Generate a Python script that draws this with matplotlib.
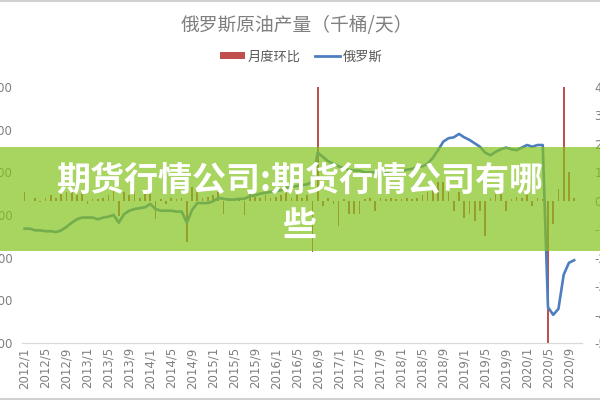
import numpy as np
import matplotlib
matplotlib.use("Agg")
import matplotlib.pyplot as plt
from matplotlib.patches import Rectangle, Patch
from matplotlib.lines import Line2D

plt.rcParams['font.family'] = ['Noto Sans CJK SC', 'DejaVu Sans']

# months on the category axis: 2012/1 .. 2020/11
months = [f"{y}/{m}" for y in range(2012, 2021) for m in range(1, 13)][:107]

# Russian crude output, thousand barrels/day (left axis), 2012/1 .. 2020/10
russia = [
    10340, 10340, 10320, 10320, 10310, 10310, 10300, 10320, 10360, 10410,
    10450, 10470, 10470, 10470, 10450, 10470, 10480, 10500, 10410, 10510,
    10550, 10570, 10580, 10590, 10630, 10570, 10550, 10550, 10550, 10540,
    10540, 10410, 10560, 10640, 10640, 10640, 10660, 10700, 10690, 10680,
    10680, 10690, 10690, 10720, 10730, 10750, 10760, 10770, 10780, 10790,
    10820, 10830, 10840, 10850, 10860, 10890, 11230, 11180, 11130, 11100,
    11070, 11050, 11030, 11020, 11020, 11000, 11000, 11000, 11020, 11000,
    11020, 11020, 11020, 11030, 11040, 11060, 11070, 11100, 11170, 11260,
    11360, 11400, 11410, 11450, 11410, 11380, 11340, 11300, 11230, 11200,
    11240, 11270, 11290, 11270, 11260, 11290, 11320, 11300, 11320, 11320,
    9420, 9330, 9400, 9800, 9940, 9970,
]

# month-on-month change (right axis)
mom = [
    0.3, 0.0, 0.1, -0.05, 0.1, 0.2, 0.1, 0.25, 0.3, 0.35,
    0.2, 0.3, -0.1, 0.05, 0.05, 0.1, 0.2, 0.35, -0.55, 0.3,
    0.2, 0.35, 0.1, 0.3, 0.25, -0.65, 0.05, -0.1, 0.1, 0.05,
    0.1, -1.45, 0.5, 0.3, 0.1, 0.15, 0.2, 0.3, -0.45, 0.1,
    0.05, 0.1, -0.5, 0.3, 0.15, 0.1, 0.2, 0.1, 0.15, 0.2,
    0.3, 0.1, 0.2, 0.1, 0.2, -1.8, 4.0, -0.2, 0.1, -0.1,
    -0.9, 0.05, -0.45, -0.45, -0.45, 0.05, 0.1, -0.35, 0.1, 0.05,
    0.1, 0.05, 0.05, 0.1, 0.05, 0.1, 0.2, 0.3, 0.5, 0.65,
    0.65, 0.3, -0.35, 0.3, -0.6, -0.45, -0.7, -0.35, -1.25, 0.1,
    0.3, 0.25, -0.35, 0.05, 0.15, 0.1, 0.2, -0.2, 0.1, 0.05,
    -5.0, -0.8, 0.4, 4.0, 1.0, 0.1,
]

left_ticks = [9000, 9500, 10000, 10500, 11000, 11500, 12000]
right_ticks = [-5, -4, -3, -2, -1, 0, 1, 2, 3, 4]

title = "俄罗斯原油产量（千桶/天）"
banner_line1 = "期货行情公司:期货行情公司有哪"
banner_line2 = "些"

grey = "#7f7f7f"
red = "#C0504D"
blue = "#4F7EC0"

fig = plt.figure(figsize=(6, 4), dpi=100)
ax = fig.add_axes([22 / 600, (400 - 343) / 400, 560 / 600, 256 / 400])
ax2 = ax.twinx()

x_bar = np.arange(len(mom))
ax2.bar(x_bar, mom, width=0.32, color=red, linewidth=0)
x_line = np.arange(len(russia))
ax.plot(x_line, russia, color=blue, linewidth=1.9, solid_joinstyle='round')

ax.set_zorder(ax2.get_zorder() + 1)
ax.patch.set_visible(False)

ax.set_xlim(-0.5, len(months) - 0.5)
ax.set_ylim(9000, 12000)
ax2.set_ylim(-5, 4)

ax.set_yticks(left_ticks)
ax.set_yticklabels([f"{v:,}" for v in left_ticks])
ax2.set_yticks(right_ticks)
ax2.set_yticklabels([f"{v}%" for v in right_ticks])

ticks = list(range(0, len(months), 4))
ax.set_xticks(ticks)
ax.set_xticklabels([months[i] for i in ticks], rotation=90)

for a in (ax, ax2):
    for side in ('top', 'left', 'right'):
        a.spines[side].set_visible(False)
    a.spines['bottom'].set_color('#d9d9d9')
    a.tick_params(length=0, colors=grey, labelsize=8.5)
ax.tick_params(axis='y', pad=6.5)
ax2.tick_params(axis='y', pad=9)
ax.tick_params(axis='x', pad=3)
for lab in ax.get_xticklabels() + ax.get_yticklabels() + ax2.get_yticklabels():
    lab.set_family('DejaVu Sans')

fig.text(0.495, 1 - 25 / 400, title, ha='center', va='center',
         fontsize=13.5, color=grey)

handles = [Patch(facecolor=red, edgecolor='none'),
           Line2D([0], [0], color=blue, linewidth=2)]
fig.legend(handles, ["月度环比", "俄罗斯"], loc='center',
           bbox_to_anchor=(0.502, 1 - 57 / 400), ncol=2, frameon=False,
           fontsize=9.5, handlelength=1.9, handleheight=0.45,
           handletextpad=0.2, columnspacing=1.1, labelcolor='#595959')

# green banner laid over the chart
fig.patches.append(Rectangle((0, (400 - 251) / 400), 1, 104 / 400,
                             transform=fig.transFigure, facecolor='#83C21C',
                             alpha=0.7, edgecolor='none', zorder=10))
fig.text(0.5, 1 - 180 / 400, banner_line1, ha='center', va='center',
         fontsize=24.5, fontweight='bold', color='white', zorder=11)
fig.text(0.5, 1 - 225 / 400, banner_line2, ha='center', va='center',
         fontsize=24.5, fontweight='bold', color='white', zorder=11)

# thin frame edges of the screenshot
fig.patches.append(Rectangle((0, 1 - 2 / 400), 1, 2 / 400, transform=fig.transFigure,
                             facecolor='#d0d0d0', edgecolor='none', zorder=12))
fig.patches.append(Rectangle((0, 0), 1, 2 / 400, transform=fig.transFigure,
                             facecolor='#d0d0d0', edgecolor='none', zorder=12))

fig.savefig("out.png", dpi=100)
